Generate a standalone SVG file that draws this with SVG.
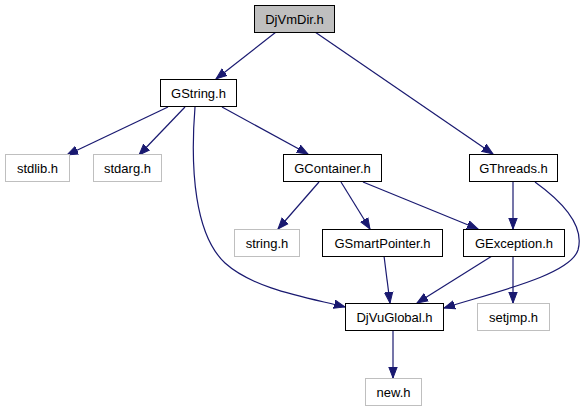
<svg xmlns="http://www.w3.org/2000/svg" width="581" height="411" viewBox="0 0 581 411">
<style>
.n rect{fill:#ffffff;stroke:#000000;stroke-width:1}
.n.ext rect{stroke:#bfbfbf}
.n.root rect{fill:#bfbfbf}
.n text{font-family:"Liberation Sans",Arial,sans-serif;font-size:13px;fill:#000000;text-anchor:middle}
.e path{fill:none;stroke:#191970;stroke-width:1.2;marker-end:url(#arr)}
</style>
<defs>
<marker id="arr" markerUnits="userSpaceOnUse" markerWidth="12" markerHeight="10" viewBox="0 0 12 10" refX="11" refY="5" orient="auto">
<path d="M0,0.8 L11,5 L0,9.2 Z" fill="#191970" stroke="#191970" stroke-width="1"/>
</marker>
</defs>
<rect width="581" height="411" fill="#ffffff"/>
<g id="edges" class="e">
<path d="M276,32 L216,79"/>
<path d="M315,32 L493,154"/>
<path d="M168,107 L67,155"/>
<path d="M185,107 L139,155"/>
<path d="M222,107 L308,154"/>
<path d="M195,107 C190,170 195,235 225,263 C255,290 310,298 345,307"/>
<path d="M319,182 L278,229"/>
<path d="M341,182 L370,229"/>
<path d="M363,182 L478,229"/>
<path d="M513,182 L513,229"/>
<path d="M535,182 C560,200 585,225 578,250 C570,275 495,292 444,308"/>
<path d="M384,256 L390,303"/>
<path d="M492,256 L417,303"/>
<path d="M513,256 L513,303"/>
<path d="M393,331 L393,378"/>
</g>
<g id="DjVmDir" class="n root"><rect x="254.5" y="5.5" width="80" height="27"/><text x="294.5" y="23.5">DjVmDir.h</text></g>
<g id="GString" class="n"><rect x="160.5" y="79.5" width="76" height="27"/><text x="198.5" y="97.5">GString.h</text></g>
<g id="stdlib" class="n ext"><rect x="5.5" y="154.5" width="64" height="27"/><text x="37.5" y="172.5">stdlib.h</text></g>
<g id="stdarg" class="n ext"><rect x="93.5" y="154.5" width="68" height="27"/><text x="127.5" y="172.5">stdarg.h</text></g>
<g id="GContainer" class="n"><rect x="283.5" y="154.5" width="98" height="27"/><text x="332.5" y="172.5">GContainer.h</text></g>
<g id="GThreads" class="n"><rect x="469.5" y="154.5" width="88" height="27"/><text x="513.5" y="172.5">GThreads.h</text></g>
<g id="string" class="n ext"><rect x="234.5" y="229.5" width="65" height="27"/><text x="267" y="247.5">string.h</text></g>
<g id="GSmartPointer" class="n"><rect x="322.5" y="229.5" width="120" height="27"/><text x="382.5" y="247.5">GSmartPointer.h</text></g>
<g id="GException" class="n"><rect x="463.5" y="229.5" width="101" height="27"/><text x="514" y="247.5">GException.h</text></g>
<g id="DjVuGlobal" class="n"><rect x="345.5" y="303.5" width="98" height="27"/><text x="394.5" y="321.5">DjVuGlobal.h</text></g>
<g id="setjmp" class="n ext"><rect x="477.5" y="303.5" width="72" height="27"/><text x="513.5" y="321.5">setjmp.h</text></g>
<g id="new" class="n ext"><rect x="365.5" y="378.5" width="56" height="27"/><text x="393.5" y="396.5">new.h</text></g>
</svg>
